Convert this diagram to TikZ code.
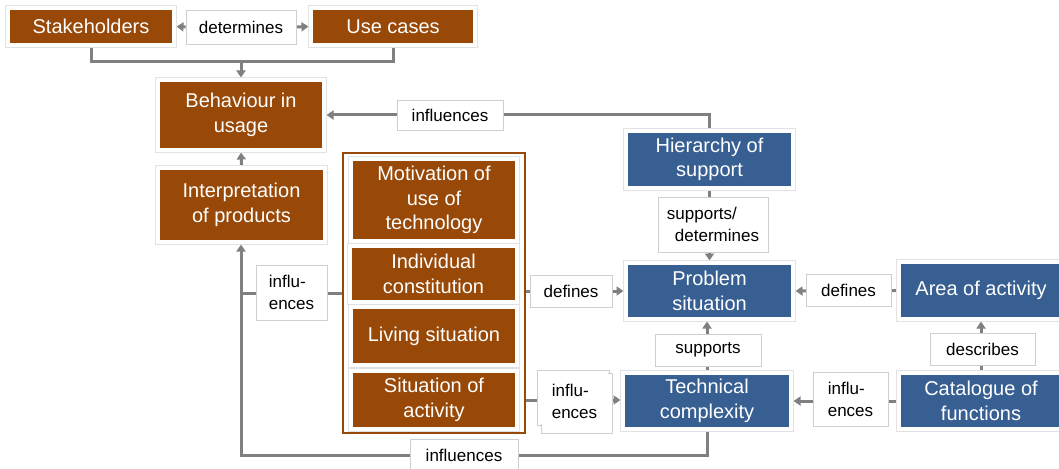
\documentclass[tikz,border=0pt]{standalone}
\usepackage{fontspec}
\setmainfont{Liberation Sans}
\usetikzlibrary{arrows.meta,backgrounds}
\definecolor{brn}{HTML}{984807}
\definecolor{blu}{HTML}{375F92}
\definecolor{lin}{HTML}{808080}
\definecolor{rim}{HTML}{E2E2E2}
\definecolor{lrim}{HTML}{CFCFCF}
\tikzset{
  box/.style={preaction={draw=rim,line width=5.5pt}, draw=white, line width=4pt,
    text=white, font=\fontsize{20}{24.5}\selectfont, align=center, inner sep=0pt, outer sep=2.5pt},
  bbox/.style={box, fill=brn},
  ubox/.style={box, fill=blu},
  lbl/.style={fill=white, draw=lrim, line width=0.8pt, font=\fontsize{17}{22}\selectfont,
    align=center, inner sep=0pt},
  conn/.style={draw=lin, line width=3pt},
  arr/.style={conn, -{Triangle[length=7pt,width=9pt]}},
}
\begin{document}
\begin{tikzpicture}[x=1pt,y=-1pt]
\useasboundingbox (0,0) rectangle (1059,468);
% brown nodes
\node[bbox, minimum width=166, minimum height=37] (stake) at (91,26.5) {Stakeholders};
\node[bbox, minimum width=164, minimum height=37] (use) at (393,26.5) {Use cases};
\node[bbox, minimum width=166, minimum height=70] (beh) at (241,115) {Behaviour in\\usage};
\node[bbox, minimum width=167, minimum height=74] (interp) at (241.5,205) {Interpretation\\of products};
% group
\node[draw=brn, line width=2pt, fill=white, minimum width=182, minimum height=280, inner sep=0pt, outer sep=1pt] (grp) at (434,293) {};
\node[bbox, minimum width=166, minimum height=82] (motiv) at (434,200) {Motivation of\\use of\\technology};
\node[bbox, minimum width=167, minimum height=56] (indiv) at (433.5,274) {Individual\\constitution};
\node[bbox, minimum width=166, minimum height=58] (living) at (434,336) {Living situation};
\node[bbox, minimum width=166, minimum height=58] (situ) at (434,400) {Situation of\\activity};
% blue nodes
\node[ubox, minimum width=167, minimum height=57] (hier) at (709.5,159.5) {Hierarchy of\\support};
\node[ubox, minimum width=167, minimum height=56] (prob) at (709.5,291) {Problem\\situation};
\node[ubox, minimum width=168, minimum height=56] (tech) at (707,401) {Technical\\complexity};
\node[ubox, minimum width=164, minimum height=57] (area) at (981,290.5) {Area of activity};
\node[ubox, minimum width=164, minimum height=56] (cat) at (981,401) {Catalogue of\\functions};
% labels
\node[lbl, minimum width=110, minimum height=34] (l1) at (241,27) {determines};
\node[lbl, minimum width=106, minimum height=30] (l2) at (450,115) {influences};
\node[lbl, minimum width=110, minimum height=55, align=left] (l3) at (713,224.5) {supports/\\\hspace*{8pt}determines};
\node[lbl, minimum width=85, minimum height=32] (l4) at (848.5,290) {defines};
\node[lbl, minimum width=105, minimum height=32] (l5) at (982.5,349) {describes};
\node[lbl, minimum width=75, minimum height=54, align=left] (l6) at (850.5,399) {influ-\\ences};
\node[lbl, minimum width=106, minimum height=32] (l7) at (708,350) {supports};
\node[lbl, minimum width=82, minimum height=32] (l8) at (571,291) {defines};
% stacked label
\draw[draw=lrim, line width=0.8pt, fill=white] (537,370) rectangle (609,425);
\draw[draw=lrim, line width=0.8pt, fill=white] (541,373) rectangle (612,433);
\fill[white] (537.6,370.6) rectangle (608.4,424.4);
\fill[white] (541.6,373.6) rectangle (611.4,432.4);
\node[lbl, draw=none, fill=none, minimum width=75, minimum height=62, align=left] (l9) at (574.5,401) {influ-\\ences};
\node[lbl, minimum width=71, minimum height=55, align=left] (l10) at (291.5,292.5) {influ-\\ences};
\node[lbl, minimum width=108, minimum height=32] (l11) at (464,455) {influences};
% junction coordinates
\coordinate (j1) at (241,62);
\coordinate (j2) at (241,293);
\coordinate (j3) at (241,455);
\begin{pgfonlayer}{background}
\draw[arr] (l1.west) -- (stake.east);
\draw[arr] (l1.east) -- (use.east -| use.west);
\draw[conn] (stake.south) |- (j1) -| (use.south);
\draw[arr] (j1) -- (beh.north);
\draw[arr] (hier.north) |- (beh.east);
\draw[arr] (hier.south) -- (prob.north);
\draw[arr] (area.west) -- (prob.east);
\draw[arr] (cat.north) -- (cat.north |- area.south);
\draw[arr] (cat.west) -- (tech.east);
\draw[arr] (tech.north) -- (tech.north |- prob.south);
\draw[arr] (grp.east |- prob.west) -- (prob.west);
\draw[arr] (situ.east) -- (situ.east -| tech.west);
\draw[arr] (interp.north) -- (beh.south);
\draw[conn] (grp.west |- j2) -- (j2);
\draw[arr] (tech.south) |- (j3) -- (interp.south -| j3);
\end{pgfonlayer}
\end{tikzpicture}
\end{document}
